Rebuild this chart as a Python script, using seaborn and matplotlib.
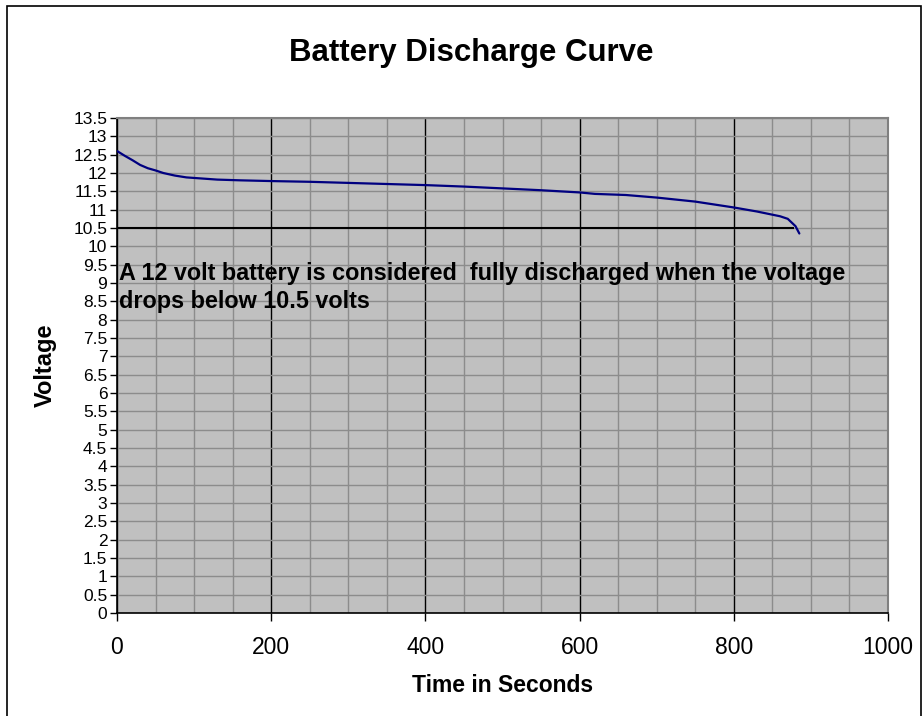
import numpy as np
import pandas as pd
import matplotlib
matplotlib.use("Agg")
import matplotlib.pyplot as plt
from matplotlib.patches import Rectangle
from matplotlib.ticker import MultipleLocator, FormatStrFormatter
import seaborn as sns

# Discharge readings
time_s = [0, 10, 20, 30, 40, 50, 60, 75, 90, 110, 130, 160, 200, 250, 300,
          350, 400, 450, 500, 550, 600, 620, 660, 700, 750, 800, 830, 860,
          870, 880, 885]
voltage = [12.6, 12.47, 12.35, 12.22, 12.13, 12.07, 12.0, 11.93, 11.88, 11.85,
           11.82, 11.8, 11.78, 11.76, 11.73, 11.7, 11.67, 11.63, 11.58, 11.53,
           11.47, 11.43, 11.4, 11.33, 11.22, 11.06, 10.95, 10.82, 10.75, 10.55,
           10.35]

cutoff_voltage = 10.5
cutoff_end = 878
note_lines = ["A 12 volt battery is considered  fully discharged when the voltage",
              "drops below 10.5 volts"]

sns.set_style("white")
plt.rcParams['font.family'] = ['Liberation Sans', 'DejaVu Sans']
for key in ['text.color', 'axes.labelcolor', 'xtick.color', 'ytick.color']:
    plt.rcParams[key] = 'black'

df = pd.DataFrame({'time': time_s, 'voltage': voltage})

fig = plt.figure(figsize=(9.24, 7.16), dpi=100)
ax = fig.add_axes([117 / 924, 1 - 613 / 716, (888 - 117) / 924, (613 - 118) / 716])
ax.set_facecolor('#C0C0C0')

sns.lineplot(data=df, x='time', y='voltage', ax=ax, color='#000080',
             linewidth=1.6, zorder=5)

ax.set_xlim(0, 1000)
ax.set_ylim(0, 13.5)
ax.xaxis.set_major_locator(MultipleLocator(200))
ax.xaxis.set_minor_locator(MultipleLocator(50))
ax.yaxis.set_major_locator(MultipleLocator(0.5))
ax.yaxis.set_major_formatter(FormatStrFormatter('%g'))

ax.grid(which='minor', axis='x', color='#8c8c8c', linewidth=1.0)
ax.grid(which='major', axis='x', color='black', linewidth=1.0)
ax.grid(which='major', axis='y', color='#8c8c8c', linewidth=1.0)
ax.set_axisbelow(True)
xgl = ax.get_xgridlines()
xgl[-1].set_visible(False)

ax.hlines(cutoff_voltage, 0, cutoff_end, color='black', linewidth=1.5, zorder=4)

ax.tick_params(axis='x', which='major', direction='out', length=6, width=1,
               labelsize=16.5, pad=10.5, bottom=True, color='black')
ax.tick_params(axis='x', which='minor', length=0)
ax.tick_params(axis='y', direction='out', length=5, width=1, labelsize=12.5,
               pad=2, left=True, color='black')

for side in ['left', 'bottom']:
    ax.spines[side].set_color('black')
    ax.spines[side].set_linewidth(1.2)
for side in ['top', 'right']:
    ax.spines[side].set_color('#808080')
    ax.spines[side].set_linewidth(1.5)

ax.set_xlabel('Time in Seconds', fontsize=16.5, fontweight='bold', labelpad=11)
ax.set_ylabel('Voltage', fontsize=17, fontweight='bold', labelpad=12)

ax.text(3, (613 - 280) / 36.67, note_lines[0], fontsize=16.8, fontweight='bold',
        va='baseline', ha='left', zorder=6)
ax.text(3, (613 - 308) / 36.67, note_lines[1], fontsize=16.8, fontweight='bold',
        va='baseline', ha='left', zorder=6)

fig.text(0.51, 1 - 53 / 716, 'Battery Discharge Curve', fontsize=22.5,
         fontweight='bold', ha='center', va='center')

fig.patches.append(Rectangle((7.5 / 924, -0.05), (921 - 7.5) / 924,
                             1.05 - 6 / 716, transform=fig.transFigure,
                             fill=False, edgecolor='black', linewidth=1.2))

fig.savefig('out.png', dpi=100)
